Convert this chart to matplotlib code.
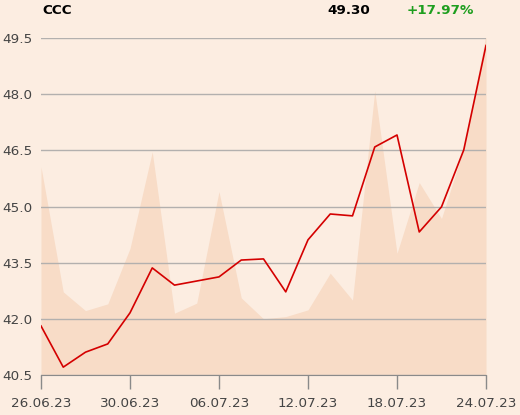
import matplotlib
matplotlib.use("Agg")
import matplotlib.pyplot as plt

# trading days shown on the axis, every 4th day labelled
days = list(range(21))
tick_pos = [0, 4, 8, 12, 16, 20]
tick_labels = ["26.06.23", "30.06.23", "06.07.23", "12.07.23", "18.07.23", "24.07.23"]

# closing prices
price = [41.81, 40.71, 41.11, 41.33, 42.16, 43.36, 42.90, 43.01, 43.12, 43.57,
         43.60, 42.72, 44.11, 44.80, 44.75, 46.59, 46.91, 44.32, 44.99, 46.51, 49.30]

# volume, scaled into the price axis
volume = [46.06, 42.72, 42.22, 42.40, 43.88, 46.46, 42.15, 42.42, 45.40, 42.56,
          42.00, 42.06, 42.24, 43.22, 42.50, 48.09, 43.75, 45.64, 44.68, 46.55, 49.60]

yticks = [40.5, 42.0, 43.5, 45.0, 46.5, 48.0, 49.5]

bg = "#FCEDE1"
fig = plt.figure(figsize=(5.2, 4.15), dpi=100, facecolor=bg)
ax = fig.add_axes([41 / 520, 40 / 415, 445 / 520, 337 / 415])
ax.set_facecolor(bg)

ax.fill_between(days, 40.5, volume, color="#F8DCC7", linewidth=0, zorder=1)
ax.set_yticks(yticks)
ax.set_yticklabels([f"{v:.1f}" for v in yticks])
ax.grid(axis="y", color="#B3B0AE", linewidth=1, zorder=2)
ax.plot(days, price, color="#D40000", linewidth=1.2, zorder=3)

ax.set_xlim(0, 20)
ax.set_ylim(40.5, 49.5)
ax.set_xticks(tick_pos)
ax.set_xticklabels(tick_labels)

for side in ["top", "right", "left"]:
    ax.spines[side].set_visible(False)
ax.spines["bottom"].set_color("#8A8A8A")
ax.spines["bottom"].set_zorder(4)
ax.tick_params(axis="x", length=10, width=1, color="#8A8A8A", pad=6,
               labelsize=9.7, labelcolor="#444444")
ax.tick_params(axis="y", length=0, pad=6, labelsize=9.7, labelcolor="#444444")

fig.text(42 / 520, 1 - 10 / 415, "CCC", fontsize=9.7, fontweight="bold",
         ha="left", va="center", color="black")
fig.text(370 / 520, 1 - 10 / 415, "49.30", fontsize=9.7, fontweight="bold",
         ha="right", va="center", color="black")
fig.text(407 / 520, 1 - 10 / 415, "+17.97%", fontsize=9.7, fontweight="bold",
         ha="left", va="center", color="#1E9E1E")

fig.savefig("out.png", dpi=100, facecolor=bg)
